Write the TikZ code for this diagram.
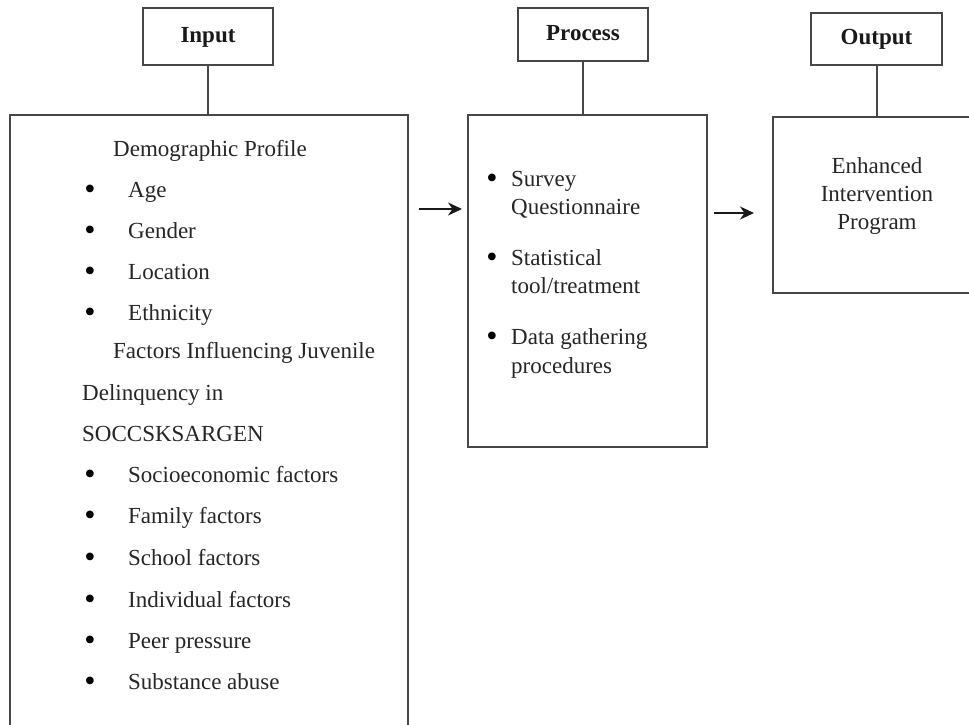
\documentclass[tikz,border=0pt]{standalone}
\usepackage{fontspec}
\setmainfont{Liberation Serif}
\usetikzlibrary{arrows.meta}
\begin{document}
\begin{tikzpicture}[x=1pt,y=-1pt,
  boxline/.style={draw=black!72, line width=2pt},
  titlebox/.style={boxline, inner sep=0pt, text height=15pt, text depth=4pt,
    font=\fontsize{23}{28}\selectfont\bfseries, text=black!90},
  bigbox/.style={boxline, inner sep=0pt},
  txt/.style={anchor=base west, inner sep=0pt, font=\fontsize{23}{28}\selectfont, text=black!85},
  ctxt/.style={anchor=base, inner sep=0pt, font=\fontsize{23}{28}\selectfont, text=black!85},
  bul/.style={anchor=base, inner sep=0pt, yshift=-2.5pt, font=\fontsize{32}{36}\selectfont, text=black},
  link/.style={draw=black!72, line width=2pt},
  flow/.style={draw=black!90, line width=2pt, -{Stealth[length=14pt,width=13pt]}}
]
\useasboundingbox (0,0) rectangle (969,724);
\clip (0,0) rectangle (969,724);

% title boxes
\node[titlebox, minimum width=130pt, minimum height=57pt] (tin) at (208,36.5) {Input};
\node[titlebox, minimum width=130pt, minimum height=53pt] (tproc) at (583,34.5) {Process};
\node[titlebox, minimum width=131pt, minimum height=52pt] (tout) at (876.5,39) {Output};

% big boxes
\node[bigbox, minimum width=398pt, minimum height=645pt] (inbox) at (209,437.5) {};
\node[bigbox, minimum width=239pt, minimum height=332pt] (procbox) at (587.5,281) {};
\node[bigbox, minimum width=227pt, minimum height=176pt] (outbox) at (886.5,205) {};

% connectors title -> box
\draw[link] (tin.south) -- (tin.south |- inbox.north);
\draw[link] (tproc.south) -- (tproc.south |- procbox.north);
\draw[link] (tout.south) -- (tout.south |- outbox.north);

% flow arrows
\coordinate (ya) at (0,209);
\coordinate (yb) at (0,213);
\draw[flow, shorten <=10pt, shorten >=5pt] (inbox.east |- ya) -- (procbox.west |- ya);
\draw[flow, shorten <=6pt, shorten >=18pt] (procbox.east |- yb) -- (outbox.west |- yb);

% input text
\node[txt] (demo) at (113,156) {Demographic Profile};
\node[bul] (b1) at (90,197) {\textbullet};
\node[txt] (age) at (128,197) {Age};
\node[bul] (b2) at (90,238) {\textbullet};
\node[txt] (gender) at (128,238) {Gender};
\node[bul] (b3) at (90,279) {\textbullet};
\node[txt] (loc) at (128,279) {Location};
\node[bul] (b4) at (90,320) {\textbullet};
\node[txt] (eth) at (128,320) {Ethnicity};
\node[txt] (fac1) at (113,358) {Factors Influencing Juvenile};
\node[txt] (fac2) at (82,400) {Delinquency in};
\node[txt] (fac3) at (82,441) {SOCCSKSARGEN};
\node[bul] (b5) at (90,482) {\textbullet};
\node[txt] (socio) at (128,482) {Socioeconomic factors};
\node[bul] (b6) at (90,523) {\textbullet};
\node[txt] (fam) at (128,523) {Family factors};
\node[bul] (b7) at (90,565) {\textbullet};
\node[txt] (school) at (128,565) {School factors};
\node[bul] (b8) at (90,607) {\textbullet};
\node[txt] (indiv) at (128,607) {Individual factors};
\node[bul] (b9) at (90,648) {\textbullet};
\node[txt] (peer) at (128,648) {Peer pressure};
\node[bul] (b10) at (90,689) {\textbullet};
\node[txt] (subst) at (128,689) {Substance abuse};

% process text
\node[bul] (p1) at (492,186) {\textbullet};
\node[txt] (surv1) at (511,186) {Survey};
\node[txt] (surv2) at (511,214) {Questionnaire};
\node[bul] (p2) at (492,265) {\textbullet};
\node[txt] (stat1) at (511,265) {Statistical};
\node[txt] (stat2) at (511,293) {tool/treatment};
\node[bul] (p3) at (492,344) {\textbullet};
\node[txt] (data1) at (511,344) {Data gathering};
\node[txt] (data2) at (511,373) {procedures};

% output text
\node[ctxt] (o1) at (877,173) {Enhanced};
\node[ctxt] (o2) at (877,201) {Intervention};
\node[ctxt] (o3) at (877,229) {Program};
\end{tikzpicture}
\end{document}
